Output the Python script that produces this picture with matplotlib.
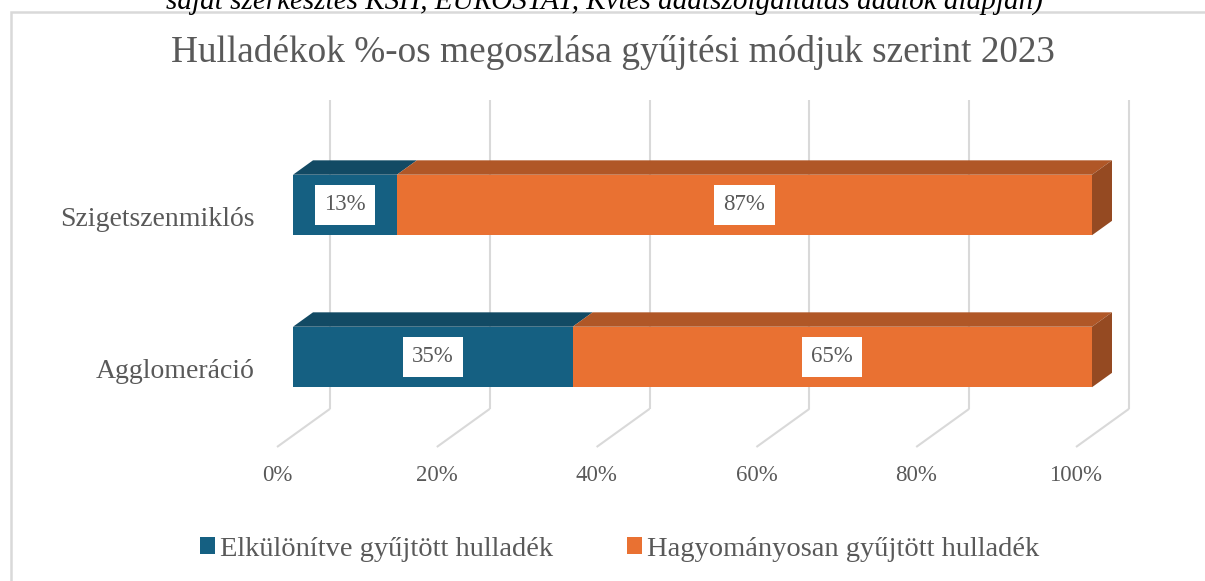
import matplotlib
matplotlib.use("Agg")
import matplotlib.pyplot as plt
from matplotlib.patches import Polygon, Rectangle
import numpy as np

# ---------------- data ----------------
categories = ["Agglomeráció", "Szigetszenmiklós"]
series_names = ["Elkülönítve gyűjtött hulladék", "Hagyományosan gyűjtött hulladék"]
separate = [35, 13]
traditional = [65, 87]
xticks = [0, 20, 40, 60, 80, 100]
xtick_labels = ["0%", "20%", "40%", "60%", "80%", "100%"]
title = "Hulladékok %-os megoszlása gyűjtési módjuk szerint 2023"
caption = "saját szerkesztés KSH, EUROSTAT, Kvtes adatszolgáltatás adatok alapján)"

# ---------------- style ----------------
W, H = 1205, 581
DPI = 100
SERIF = ["Liberation Serif", "DejaVu Serif"]
GRAY_TXT = "#595959"
GRID = "#D9D9D9"
colors_front = ["#156082", "#E97132"]
colors_top = ["#124A64", "#B05727"]
colors_side = ["#0F3E54", "#954A22"]

plt.rcParams["font.family"] = SERIF

fig = plt.figure(figsize=(W / DPI, H / DPI), dpi=DPI)
fig.patch.set_facecolor("white")

# axes: floor front edge  (pixel coords measured from top-left)
ax_left_px, ax_right_px = 277, 1076
ax_bottom_px, ax_top_px = 447, 100
ax = fig.add_axes([ax_left_px / W, 1 - ax_bottom_px / H,
                   (ax_right_px - ax_left_px) / W, (ax_bottom_px - ax_top_px) / H])
px_per_x = (ax_right_px - ax_left_px) / 100.0
px_per_y = 152.0
y0_px = 368.5  # category 0 centre at depth 0
ylo = (y0_px - ax_bottom_px) / px_per_y
yhi = (y0_px - ax_top_px) / px_per_y
ax.set_xlim(0, 100)
ax.set_ylim(ylo, yhi)
ax.set_facecolor("none")
for s in ax.spines.values():
    s.set_visible(False)

# depth geometry (in pixels) converted to data units
def depth(px):
    # oblique direction: right & up, ratio 0.72
    return px / px_per_x, 0.72 * px / px_per_y

wall_dx, wall_dy = depth(53)
bf_dx, bf_dy = depth(16)   # bar front depth
bb_dx, bb_dy = depth(36)   # bar back depth
bar_h = 60.5 / px_per_y

# gridlines: floor diagonal + back-wall vertical
for t in xticks:
    ax.plot([t, t + wall_dx], [ylo, ylo + wall_dy], color=GRID, lw=1.5,
            clip_on=False, zorder=1, solid_capstyle="butt")
    ax.plot([t + wall_dx, t + wall_dx], [ylo + wall_dy, yhi], color=GRID, lw=1.5,
            clip_on=False, zorder=1, solid_capstyle="butt")

# 3D stacked bars
ypos = np.arange(len(categories))
series = [separate, traditional]
for i, y in enumerate(ypos):
    left = 0.0
    for s, vals in enumerate(series):
        v = vals[i]
        x0 = left + bf_dx
        x1 = left + v + bf_dx
        yb = y + bf_dy - bar_h / 2
        yt = y + bf_dy + bar_h / 2
        ddx, ddy = bb_dx - bf_dx, bb_dy - bf_dy
        # top face
        ax.add_patch(Polygon([[x0, yt], [x1, yt], [x1 + ddx, yt + ddy], [x0 + ddx, yt + ddy]],
                             closed=True, facecolor=colors_top[s], edgecolor="none",
                             clip_on=False, zorder=3))
        # side face (only for last segment)
        if s == len(series) - 1:
            ax.add_patch(Polygon([[x1, yb], [x1 + ddx, yb + ddy], [x1 + ddx, yt + ddy], [x1, yt]],
                                 closed=True, facecolor=colors_side[s], edgecolor="none",
                                 clip_on=False, zorder=3))
        # front face
        ax.add_patch(Rectangle((x0, yb), v, bar_h, facecolor=colors_front[s],
                               edgecolor="none", clip_on=False, zorder=4))
        ax.text(x0 + v / 2, y + bf_dy, f"{v}%", ha="center", va="center",
                fontsize=16.5, color=GRAY_TXT, zorder=6,
                bbox=dict(boxstyle="square,pad=0.4", facecolor="white", edgecolor="none"))
        left += v

# ticks
ax.set_xticks(xticks)
ax.set_xticklabels(xtick_labels, fontsize=16.5, color=GRAY_TXT)
ax.set_yticks(ypos)
ax.set_yticklabels(categories, fontsize=20, color=GRAY_TXT)
ax.tick_params(axis="x", length=0, pad=13)
ax.tick_params(axis="y", length=0, pad=16)

# title
fig.text(613 / W, 1 - 52 / H, title, ha="center", va="center",
         fontsize=26.8, color=GRAY_TXT)

# legend
handles = [Rectangle((0, 0), 1, 1, facecolor=c, edgecolor="none") for c in colors_front]
leg = fig.legend(handles, series_names, loc="center", ncol=2,
                 bbox_to_anchor=(620 / W, 1 - 549 / H), frameon=False,
                 prop={"family": SERIF, "size": 20.5}, labelcolor=GRAY_TXT,
                 handlelength=0.5, handleheight=0.5, handletextpad=0.2,
                 columnspacing=2.6)

# chart border (outer frame, continues beyond image)
fig.add_artist(Rectangle((10.5 / W, -0.05), 1.2, 1 - 11.5 / H + 0.05,
                         transform=fig.transFigure, facecolor="none",
                         edgecolor=GRID, lw=1.8))

# cut caption above the chart
fig.text(605 / W, 1 - 9 / H, caption, ha="center", va="baseline",
         fontsize=21, style="italic", color="black")

fig.savefig("out.png", dpi=DPI)
